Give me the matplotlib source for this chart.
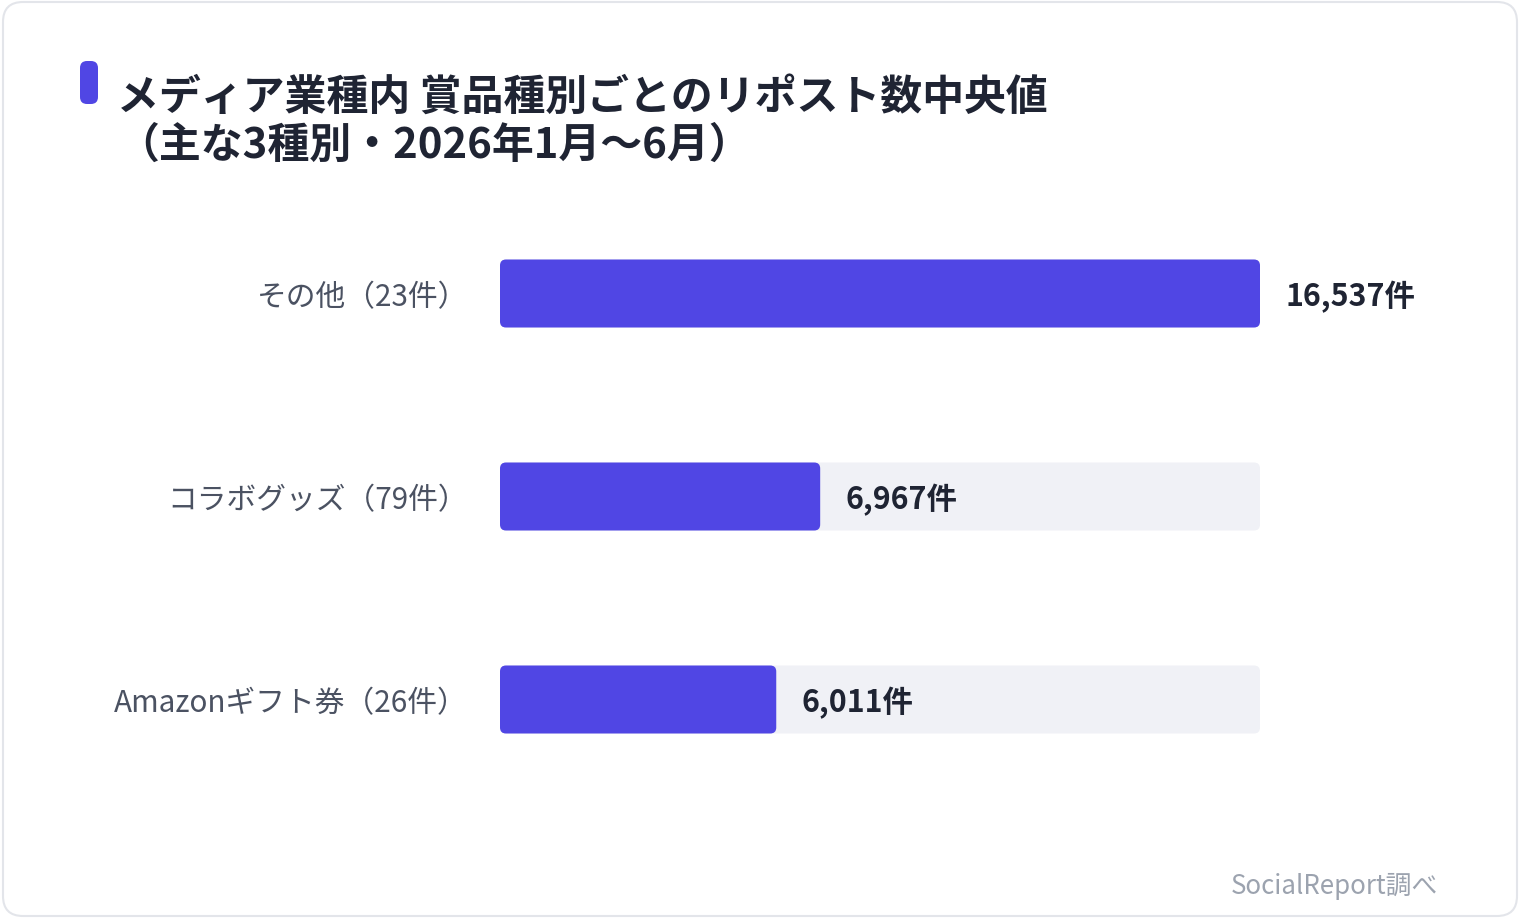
import matplotlib
matplotlib.use("Agg")
import matplotlib.pyplot as plt
from matplotlib.patches import FancyBboxPatch

plt.rcParams['font.family'] = ['Noto Sans CJK JP', 'DejaVu Sans']

# data
categories = ["その他（23件）", "コラボグッズ（79件）", "Amazonギフト券（26件）"]
values = [16537, 6967, 6011]
value_labels = ["16,537件", "6,967件", "6,011件"]
title_lines = ["メディア業種内 賞品種別ごとのリポスト数中央値", "（主な3種別・2026年1月〜6月）"]
source = "SocialReport調べ"

BAR = "#5046E4"
TRACK = "#F0F1F6"
W, H = 1520, 920

fig = plt.figure(figsize=(W / 100, H / 100), dpi=100)
fig.patch.set_facecolor("white")

# card border (behind the axes)
card = FancyBboxPatch((0.03, 0.03), W / 100 - 0.06, H / 100 - 0.06,
                      boxstyle="round,pad=0,rounding_size=0.2",
                      transform=fig.dpi_scale_trans, facecolor="white",
                      edgecolor="#E3E5EA", linewidth=1.5, zorder=-10)
fig.patches.append(card)

# accent bar next to title
accent = FancyBboxPatch((0.80, (H - 105) / 100), 0.18, 0.43,
                        boxstyle="round,pad=0,rounding_size=0.07",
                        transform=fig.dpi_scale_trans, facecolor=BAR, edgecolor="none")
fig.patches.append(accent)

fig.text(117 / W, 1 - 98 / H, title_lines[0], fontsize=30.2, fontweight="bold",
         color="#1F2433", va="center", ha="left")
fig.text(117 / W, 1 - 146 / H, title_lines[1], fontsize=30.2, fontweight="bold",
         color="#1F2433", va="center", ha="left")

# bar axes: x 500..1260 px, rows centred at 294.5/497.5/700.5 px
row_px = 203
top = 294.5 - row_px / 2
bottom = 700.5 + row_px / 2
ax = fig.add_axes([500 / W, 1 - bottom / H, 760 / W, (bottom - top) / H])
xmax = max(values)
ax.set_xlim(0, xmax)
ax.set_ylim(len(values) - 0.5, -0.5)
ax.axis("off")

bar_h = 68 / row_px
xu_per_px = xmax / 760
yu_per_px = 1 / row_px
aspect = yu_per_px / xu_per_px
rad = 6 * xu_per_px

for i, (v, lab) in enumerate(zip(values, value_labels)):
    ax.add_patch(FancyBboxPatch((0, i - bar_h / 2), xmax, bar_h,
                                boxstyle=f"round,pad=0,rounding_size={rad}",
                                mutation_aspect=aspect, facecolor=TRACK, edgecolor="none"))
    ax.add_patch(FancyBboxPatch((0, i - bar_h / 2), v, bar_h,
                                boxstyle=f"round,pad=0,rounding_size={rad}",
                                mutation_aspect=aspect, facecolor=BAR, edgecolor="none"))
    ax.annotate(lab, (v, i), xytext=(18, -1.5), textcoords="offset points",
                ha="left", va="center", fontsize=21.9, fontweight="bold", color="#1F2433")
    ax.annotate(categories[i], (0, i), xytext=(-23, -2.5), textcoords="offset points",
                ha="right", va="center", fontsize=21.4, color="#4B5262")

fig.text(1438 / W, 1 - 886 / H, source, fontsize=18.6, color="#9CA3AF",
         ha="right", va="center")

fig.savefig("out.png", dpi=100)
